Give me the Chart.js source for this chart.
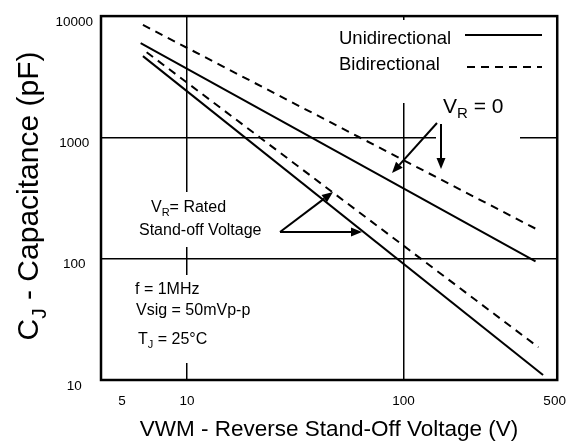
<!DOCTYPE html>
<html>
<head>
<meta charset="utf-8">
<script src="https://cdn.jsdelivr.net/npm/chart.js@4.4.1/dist/chart.umd.min.js"></script>
<style>
  html, body { margin: 0; padding: 0; background: #fff; }
  #wrap { width: 579px; height: 443px; position: relative; }
</style>
</head>
<body>
<div id="wrap"><canvas id="capChart"></canvas></div>
<script>
// --- Data: each curve is a straight line on log-log axes, so its two ends are enough ---
const uniZeroVolts = [6.1, 408];
const uniZeroPf = [6000, 95];
const biZeroVolts = [6.25, 408];
const biZeroPf = [8450, 177];
const uniRatedVolts = [6.25, 442];
const uniRatedPf = [4680, 11];
const biRatedVolts = [6.5, 421];
const biRatedPf = [5040, 18.6];

const xTicks = [5, 10, 100, 500];
const yTicks = [10, 100, 1000, 10000];
const xGrid = [10, 100];
const yGrid = [100, 1000];

const FONT = '"Liberation Sans", Arial, sans-serif';
Chart.defaults.font.family = FONT;
Chart.defaults.color = "#000";

function toPoints(volts, pf) {
  return volts.map((v, i) => ({ x: v, y: pf[i] }));
}

// draw text made of normal and subscript parts, returns width
function drawRich(ctx, x, y, parts, size, measureOnly) {
  let cx = x;
  parts.forEach(p => {
    const fs = p.sub ? Math.round(size * 0.7) : size;
    ctx.font = fs + "px " + FONT;
    if (!measureOnly) ctx.fillText(p.t, cx, y + (p.sub ? size * 0.25 : 0));
    cx += ctx.measureText(p.t).width;
  });
  return cx - x;
}

function drawArrow(ctx, x1, y1, x2, y2) {
  const ang = Math.atan2(y2 - y1, x2 - x1);
  const len = 11, half = 4.5;
  const bx = x2 - len * Math.cos(ang), by = y2 - len * Math.sin(ang);
  ctx.beginPath();
  ctx.moveTo(x1, y1);
  ctx.lineTo(bx, by);
  ctx.stroke();
  ctx.beginPath();
  ctx.moveTo(x2, y2);
  ctx.lineTo(bx + half * Math.sin(ang), by - half * Math.cos(ang));
  ctx.lineTo(bx - half * Math.sin(ang), by + half * Math.cos(ang));
  ctx.closePath();
  ctx.fill();
}

// --- Annotations, legend, frame and axis titles ---
const annotations = {
  id: "annotations",
  beforeDatasetsDraw(chart) {
    // white patches where text sits over the grid
    const ctx = chart.ctx;
    ctx.save();
    ctx.fillStyle = "#fff";
    ctx.fillRect(330, 20, 227, 83);
    ctx.fillRect(436, 95, 84, 45);
    ctx.fillRect(135, 192, 135, 55);
    ctx.fillRect(130, 275, 130, 88);
    ctx.restore();
  },
  afterDatasetsDraw(chart) {
    const { ctx, chartArea: a } = chart;
    ctx.save();
    ctx.strokeStyle = "#000";
    ctx.fillStyle = "#000";

    // frame
    ctx.lineWidth = 2.5;
    ctx.strokeRect(a.left, a.top, a.right - a.left, a.bottom - a.top);

    // legend
    ctx.textBaseline = "alphabetic";
    ctx.font = "18.5px " + FONT;
    ctx.fillText("Unidirectional", 339, 44);
    ctx.fillText("Bidirectional", 339, 70);
    ctx.lineWidth = 2;
    ctx.beginPath();
    ctx.moveTo(465, 35);
    ctx.lineTo(542, 35);
    ctx.stroke();
    ctx.setLineDash([8, 6]);
    ctx.beginPath();
    ctx.moveTo(467, 67);
    ctx.lineTo(542, 67);
    ctx.stroke();
    ctx.setLineDash([]);

    // V_R = 0
    drawRich(ctx, 443, 113, [{ t: "V" }, { t: "R", sub: true }, { t: " = 0" }], 21);
    drawArrow(ctx, 437, 123, 392, 173);
    drawArrow(ctx, 441, 124, 441, 169);

    // rated voltage note
    drawRich(ctx, 151, 212, [{ t: "V" }, { t: "R", sub: true }, { t: "= Rated" }], 16);
    ctx.font = "16px " + FONT;
    ctx.fillText("Stand-off Voltage", 139, 235);
    drawArrow(ctx, 280, 232, 333, 192);
    drawArrow(ctx, 280, 232, 362, 232);

    // test conditions
    ctx.font = "16px " + FONT;
    ctx.fillText("f = 1MHz", 135, 294);
    ctx.fillText("Vsig = 50mVp-p", 136, 315);
    drawRich(ctx, 138, 344, [{ t: "T" }, { t: "J", sub: true }, { t: " = 25°C" }], 16);

    // axis titles
    ctx.font = "22.5px " + FONT;
    ctx.textAlign = "center";
    ctx.fillText("VWM - Reverse Stand-Off Voltage (V)", 329, 436);
    ctx.textAlign = "left";

    const yParts = [{ t: "C" }, { t: "J", sub: true }, { t: " - Capacitance (pF)" }];
    ctx.translate(38, 196);
    ctx.rotate(-Math.PI / 2);
    const w = drawRich(ctx, 0, 0, yParts, 30, true);
    drawRich(ctx, -w / 2, 0, yParts, 30);
    ctx.restore();
  }
};

const lineStyle = { borderColor: "#000", borderWidth: 2, pointRadius: 0, fill: false, tension: 0 };

new Chart(document.getElementById("capChart"), {
  type: "line",
  data: {
    datasets: [
      { ...lineStyle, label: "Bidirectional, VR = 0", data: toPoints(biZeroVolts, biZeroPf), borderDash: [8, 6] },
      { ...lineStyle, label: "Unidirectional, VR = 0", data: toPoints(uniZeroVolts, uniZeroPf) },
      { ...lineStyle, label: "Bidirectional, rated", data: toPoints(biRatedVolts, biRatedPf), borderDash: [8, 6] },
      { ...lineStyle, label: "Unidirectional, rated", data: toPoints(uniRatedVolts, uniRatedPf) }
    ]
  },
  options: {
    responsive: true,
    maintainAspectRatio: false,
    animation: false,
    layout: { padding: { top: 10, right: 19, left: 0, bottom: 0 } },
    plugins: { legend: { display: false }, tooltip: { enabled: false } },
    scales: {
      x: {
        type: "logarithmic",
        min: 4,
        max: 514,
        afterBuildTicks: s => { s.ticks = xTicks.map(v => ({ value: v })); },
        afterFit: s => { s.height = 63; },
        border: { display: false },
        grid: {
          drawTicks: false,
          lineWidth: 1.5,
          color: c => (c.tick && xGrid.includes(c.tick.value)) ? "#000" : "rgba(0,0,0,0)"
        },
        ticks: { padding: 13, autoSkip: false, maxRotation: 0, font: { size: 13.5 }, color: "#000", callback: v => String(v) }
      },
      y: {
        type: "logarithmic",
        min: 10,
        max: 10000,
        afterBuildTicks: s => { s.ticks = yTicks.map(v => ({ value: v })); },
        afterFit: s => { s.width = 101; },
        border: { display: false },
        grid: {
          drawTicks: false,
          lineWidth: 1.5,
          color: c => (c.tick && yGrid.includes(c.tick.value)) ? "#000" : "rgba(0,0,0,0)"
        },
        ticks: { padding: 8, crossAlign: "center", labelOffset: 6, autoSkip: false, font: { size: 13.5 }, color: "#000", callback: v => String(v) }
      }
    }
  },
  plugins: [annotations]
});
</script>
</body>
</html>
